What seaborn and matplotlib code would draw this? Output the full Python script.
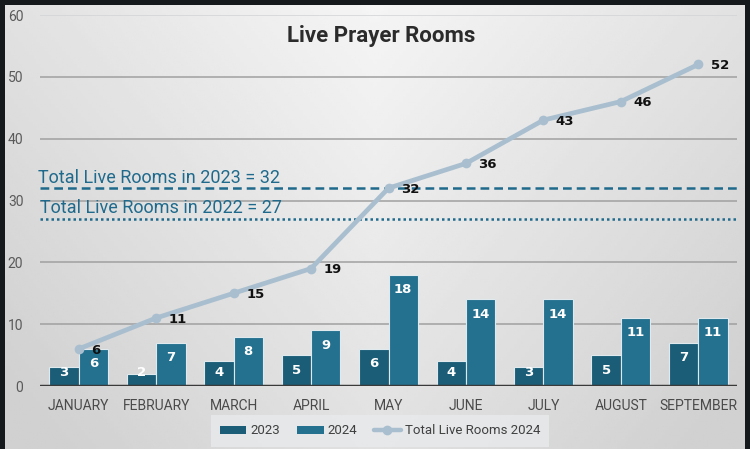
import numpy as np
import pandas as pd
import matplotlib
matplotlib.use("Agg")
import matplotlib.pyplot as plt
import seaborn as sns
from matplotlib.lines import Line2D
from matplotlib.patches import Patch

months = ["JANUARY", "FEBRUARY", "MARCH", "APRIL", "MAY", "JUNE", "JULY", "AUGUST", "SEPTEMBER"]
rooms_2023 = [3, 2, 4, 5, 6, 4, 3, 5, 7]
rooms_2024 = [6, 7, 8, 9, 18, 14, 14, 11, 11]
total_2024 = [6, 11, 15, 19, 32, 36, 43, 46, 52]
total_2023 = 32
total_2022 = 27
yticks = [0, 10, 20, 30, 40, 50, 60]

c23 = "#1b5d77"
c24 = "#23718f"
cline = "#a9bfcf"
ctext = "#1f6a8c"

sns.set_theme(style="white")
plt.rcParams["font.family"] = ["Roboto", "DejaVu Sans"]

fig = plt.figure(figsize=(7.5, 4.49), dpi=100)
fig.patch.set_facecolor("#16191c")

# gradient background panel
bg = fig.add_axes([5/750, 0, 740/750, 1 - 5/449], zorder=-5)
gx = np.linspace(0, 1, 200)
gy = np.linspace(0, 1, 200)
X, Y = np.meshgrid(gx, gy)
grad = 0.82 + 0.14 * np.clip(1 - np.abs(X - 0.5) * 1.1 - Y * 0.55, 0, 1)
bg.imshow(grad, cmap="gray", vmin=0, vmax=1, aspect="auto", extent=[0, 1, 0, 1], origin="upper")
bg.set_axis_off()

ax = fig.add_axes([40/750, 1 - 386/449, 697/750, (386 - 15)/449])
ax.patch.set_alpha(0)

df = pd.DataFrame({
    "month": months * 2,
    "value": rooms_2023 + rooms_2024,
    "year": ["2023"] * len(months) + ["2024"] * len(months),
})
sns.barplot(data=df, x="month", y="value", hue="year", order=months,
            palette={"2023": c23, "2024": c24}, saturation=1, width=0.76, gap=0.0,
            edgecolor="#dfe9ee", linewidth=0.8, ax=ax, legend=False, zorder=3)

ax.set_ylim(0, 60)
upp = 60 / 371.0  # data units per pixel
for cont in ax.containers:
    for bar in cont:
        h = bar.get_height()
        yl = max(h - 15 * upp, 14 * upp)
        ax.text(bar.get_x() + bar.get_width() / 2, yl, f"{h:.0f}", ha="center", va="center",
                color="white", fontsize=9.5, fontweight="bold", family="DejaVu Sans", zorder=6)

line_df = pd.DataFrame({"month": months, "total": total_2024})
sns.lineplot(data=line_df, x="month", y="total", sort=False, color=cline,
             linewidth=3.4, marker="o", markersize=7, markeredgewidth=0,
             ax=ax, zorder=4)
for i, v in enumerate(total_2024):
    ax.annotate(str(v), (i, v), xytext=(9, -1), textcoords="offset points",
                fontsize=9.5, fontweight="bold", color="#111111",
                family="DejaVu Sans", va="center", ha="left", zorder=7)

ax.axhline(total_2023, color=ctext, lw=1.8, ls=(0, (3.5, 2)), zorder=2)
ax.axhline(total_2022, color=ctext, lw=1.8, ls=(0, (1, 1.2)), zorder=2)
ax.annotate("Total Live Rooms in 2023 = 32", (-0.003, total_2023), xycoords=ax.get_yaxis_transform(),
            xytext=(0, 4), textcoords="offset points", annotation_clip=False,
            color=ctext, fontsize=13, ha="left", va="baseline")
ax.annotate("Total Live Rooms in 2022 = 27", (0.0, total_2022), xycoords=ax.get_yaxis_transform(),
            xytext=(0, 4), textcoords="offset points",
            color=ctext, fontsize=13, ha="left", va="baseline")

ax.set_xlim(-0.5, len(months) - 0.5)
ax.set_yticks(yticks)
for y in yticks[1:]:
    ax.axhline(y, color="#a0a0a0" if y < 60 else "#d2d4d6", lw=1.1, zorder=1)
ax.axhline(0, color="#3a3a3a", lw=2.5, zorder=6)
ax.tick_params(axis="y", length=0, labelsize=10, labelcolor="#5a5a5a", pad=12)
ax.tick_params(axis="x", length=0, labelsize=10, labelcolor="#4a4a4a", pad=9)
ax.set_xlabel("")
ax.set_ylabel("")
for s in ax.spines.values():
    s.set_visible(False)

fig.text(381/750, 1 - 36/449, "Live Prayer Rooms", ha="center", va="center",
         fontsize=16, fontweight="bold", color="#2b2b2b")

handles = [Patch(facecolor=c23, edgecolor="none"),
           Patch(facecolor=c24, edgecolor="none"),
           Line2D([0], [0], color=cline, lw=3.2, marker="o", markersize=6)]
leg = fig.legend(handles, ["2023", "2024", "Total Live Rooms 2024"], loc="center",
                 bbox_to_anchor=(380/750, 1 - 431/449), ncol=3, frameon=True,
                 fontsize=9.5, handlelength=2.0, handleheight=0.6, columnspacing=1.3,
                 handletextpad=0.3, borderpad=0.4)
leg.get_frame().set_facecolor("#e8eaec")
leg.get_frame().set_edgecolor("none")
leg.get_frame().set_boxstyle("square")
for t in leg.get_texts():
    t.set_color("#404040")

fig.savefig("out.png", dpi=100, facecolor=fig.get_facecolor())
